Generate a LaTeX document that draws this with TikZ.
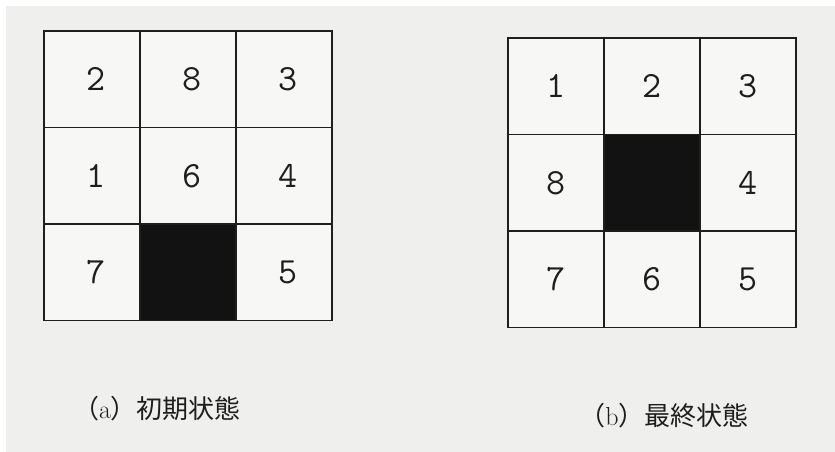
\documentclass[tikz,border=0pt]{standalone}
\usepackage{fontspec}
\newfontfamily\cjk{Noto Sans CJK JP}
\definecolor{paper}{HTML}{EFEFED}
\definecolor{tile}{HTML}{F7F7F5}
\definecolor{ink}{HTML}{1E1E1E}
\begin{document}
\begin{tikzpicture}[x=1pt,y=-1pt,
  cell/.style={draw=ink,line width=1.5pt,minimum width=96pt,minimum height=96.5pt,inner sep=0pt,
    fill=tile,text=ink,font=\ttfamily\fontsize{37}{40}\selectfont},
  blank/.style={cell,fill=black!93},
  captext/.style={text=ink,font=\fontsize{26}{29}\selectfont,inner sep=0pt}]
\useasboundingbox (0,0) rectangle (835,452);
\fill[paper] (0,0) rectangle (835,452);
\fill[white] (0,0) rectangle (835,6);
\fill[white] (0,0) rectangle (6,452);
% (a) initial state
\node[cell] (a11) at (92,79.25) {\hspace{8pt}2};
\node[cell] (a12) at (188,79.25) {\hspace{8pt}8};
\node[cell] (a13) at (284,79.25) {\hspace{8pt}3};
\node[cell] (a21) at (92,175.75) {\hspace{8pt}1};
\node[cell] (a22) at (188,175.75) {\hspace{8pt}6};
\node[cell] (a23) at (284,175.75) {\hspace{8pt}4};
\node[cell] (a31) at (92,272.25) {\hspace{8pt}7};
\node[blank] (a32) at (188,272.25) {};
\node[cell] (a33) at (284,272.25) {\hspace{8pt}5};
% (b) goal state
\node[cell] (b11) at (556,86.25) {1};
\node[cell] (b12) at (652,86.25) {2};
\node[cell] (b13) at (748,86.25) {3};
\node[cell] (b21) at (556,182.75) {8};
\node[blank] (b22) at (652,182.75) {};
\node[cell] (b23) at (748,182.75) {4};
\node[cell] (b31) at (556,279.25) {7};
\node[cell] (b32) at (652,279.25) {6};
\node[cell] (b33) at (748,279.25) {5};
% captions
\node[captext] (capa) at (157,409) {{\cjk （}a{\cjk ）初期状態}};
\node[captext] (capb) at (664,416) {{\cjk （}b{\cjk ）最終状態}};
\end{tikzpicture}
\end{document}
